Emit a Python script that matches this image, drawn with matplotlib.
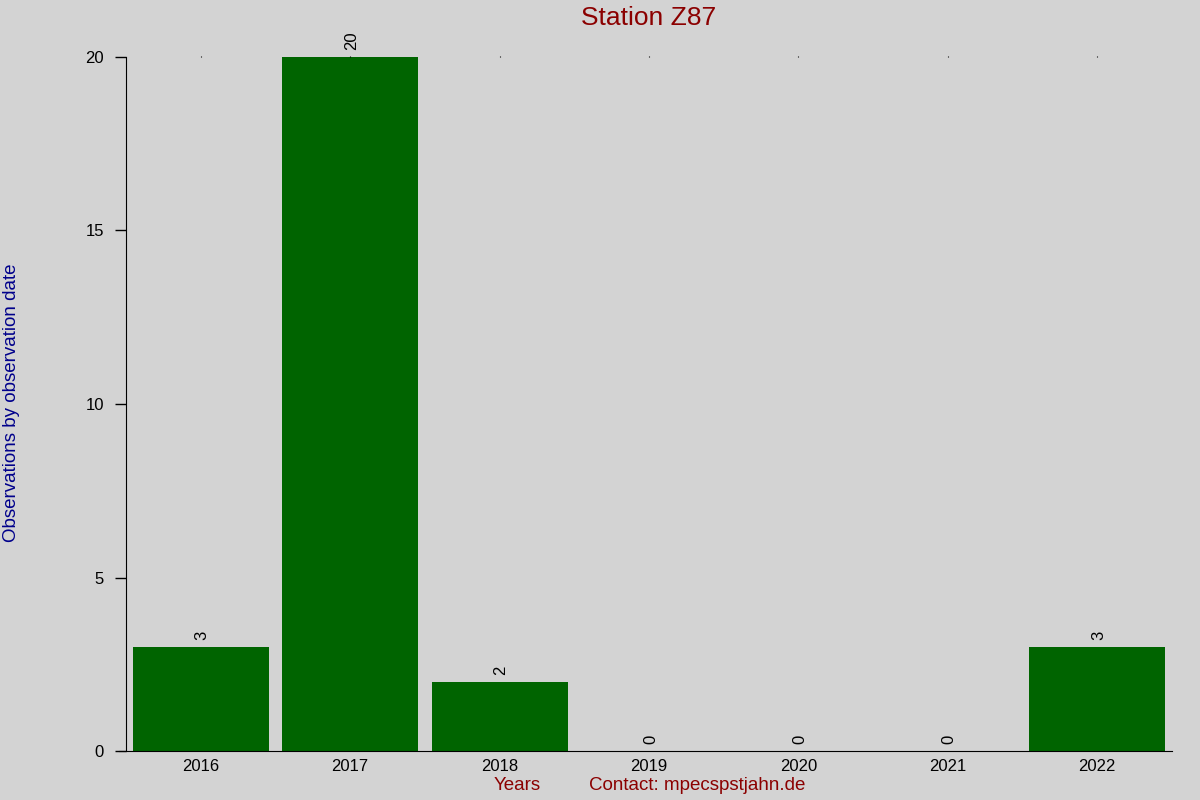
import matplotlib
matplotlib.use("Agg")
import matplotlib.pyplot as plt

plt.rcParams['font.family'] = ['Liberation Sans', 'DejaVu Sans']

years = ['2016', '2017', '2018', '2019', '2020', '2021', '2022']
counts = [3, 20, 2, 0, 0, 0, 3]

bg = '#d3d3d3'
fig = plt.figure(figsize=(12, 8), dpi=100, facecolor=bg)
ax = fig.add_axes([126/1200, 49/800, 1046/1200, 694/800], facecolor=bg)

x = range(len(years))
bars = ax.bar(x, counts, width=0.91, color='#006400')
for xi, v in zip(x, counts):
    ax.text(xi + 0.01, v + 0.2, str(v), rotation=90, ha='center', va='bottom', fontsize=12)

ax.set_xlim(-0.5, 6.5)
ax.set_ylim(0, 20)
ax.set_yticks([0, 5, 10, 15, 20])
ax.set_xticks(list(x))
ax.set_xticklabels(years, fontsize=12)
ax.tick_params(axis='y', labelsize=12, length=8, width=1, direction='out', pad=8)
ax.tick_params(axis='x', bottom=False, top=True, length=1, width=0.8, pad=5)

for s in ['top', 'right']:
    ax.spines[s].set_visible(False)
ax.spines['bottom'].set_bounds(-0.55, 6.5)

fig.text(649/1200, 1 - 18/800, 'Station Z87', color='#8b0000', fontsize=19, ha='center', va='center')
fig.text(517/1200, 1 - 786/800, 'Years', color='#8b0000', fontsize=13.5, ha='center', va='center')
fig.text(697/1200, 1 - 786/800, 'Contact: mpecspstjahn.de', color='#8b0000', fontsize=13.5,
         ha='center', va='center')
fig.text(12/1200, 1 - 403/800, 'Observations by observation date', color='#00008b', fontsize=13.5,
         rotation=90, ha='center', va='center')

fig.savefig('out.png', dpi=100, facecolor=bg)
